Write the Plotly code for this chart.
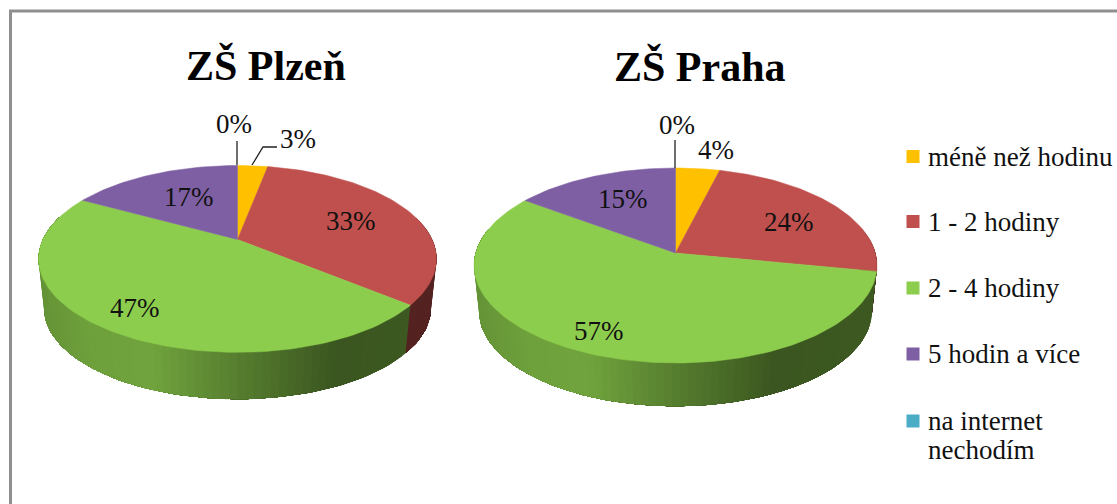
import math
import plotly.graph_objects as go

# ---- data -------------------------------------------------------------
categories = ["méně než hodinu", "1 - 2 hodiny", "2 - 4 hodiny", "5 hodin a více", "na internet<br>nechodím"]
plzen_values = [3, 33, 47, 17, 0]
praha_values = [4, 24, 57, 15, 0]
chart_titles = ["ZŠ Plzeň", "ZŠ Praha"]

# ---- style ------------------------------------------------------------
slice_colors = ["#FFC000", "#C0504D", "#8DCD4D", "#7F5FA3", "#4BACC6"]
SERIF = "Liberation Serif"
TEXT = "#111111"
# brightness of the pie wall, left to right
wall_shade = [(0.0, 0.72), (0.12, 0.78), (0.28, 0.80), (0.52, 0.60), (0.75, 0.42), (1.0, 0.44)]

# Perspective discs: apex, half axes, k (perspective), depth of wall
plzen_disc = dict(cx=237.5, ay=239.5, a=194.6, b=89.4, k=0.208, dy=50, s=0.972)
praha_disc = dict(cx=675.5, ay=253.0, a=199.8, b=95.9, k=0.128, dy=46, s=0.975)


def project(d, theta, lower=False):
    u, v = math.sin(theta), math.cos(theta)
    den = 1 + d["k"] * v
    s = d["s"] if lower else 1.0
    x = d["cx"] + s * d["a"] * u / den
    y = d["ay"] - s * d["b"] * v / den + (d["dy"] if lower else 0)
    return x, y


def shade(hex_color, t):
    f = wall_shade[-1][1]
    for (t0, f0), (t1, f1) in zip(wall_shade, wall_shade[1:]):
        if t0 <= t <= t1:
            f = f0 + (f1 - f0) * (t - t0) / (t1 - t0)
            break
    r, g, b = [int(hex_color[i:i + 2], 16) for i in (1, 3, 5)]
    return f"rgb({int(r * f)},{int(g * f)},{int(b * f)})"


fig = go.Figure()


def poly(xs, ys, color, lw=0.0):
    fig.add_trace(go.Scatter(x=xs, y=ys, mode="lines", fill="toself", fillcolor=color,
                             line=dict(color=color, width=lw), hoverinfo="skip", showlegend=False))


def draw_pie(values, d):
    total = sum(values)
    half = d["a"] / math.sqrt(1 - d["k"] ** 2)
    # walls first: each band runs on under the next band of its slice, so no seam shows
    start = 0.0
    for val, col in zip(values, slice_colors):
        end = start + val / total * 2 * math.pi
        lo, hi = max(start, math.radians(75)), min(end, math.radians(285))
        if hi > lo:
            n = max(1, int(math.degrees(hi - lo) / 2.0))
            for i in range(n):
                t0 = lo + (hi - lo) * i / n
                t1 = lo + (hi - lo) * (i + 1) / n
                far = hi
                x0, y0 = project(d, t0)
                xs_top, ys_top, xs_low, ys_low = [], [], [], []
                m = max(1, int(math.degrees(far - t0) / 2.0))
                for j in range(m + 1):
                    tj = t0 + (far - t0) * j / m
                    xa, ya = project(d, tj)
                    xb, yb = project(d, tj, True)
                    xs_top.append(xa)
                    ys_top.append(ya)
                    xs_low.append(xb)
                    ys_low.append(yb)
                xm = project(d, (t0 + t1) / 2)[0]
                tx = (xm - (d["cx"] - half)) / (2 * half)
                poly(xs_top + xs_low[::-1] + [x0], ys_top + ys_low[::-1] + [y0], shade(col, tx))
        start = end
    # top faces
    start = 0.0
    for val, col in zip(values, slice_colors):
        end = start + val / total * 2 * math.pi
        if val > 0:
            n = max(2, int(math.degrees(end - start) / 1.5))
            pts = [project(d, start + (end - start) * i / n) for i in range(n + 1)]
            xs = [d["cx"]] + [p[0] for p in pts] + [d["cx"]]
            ys = [d["ay"]] + [p[1] for p in pts] + [d["ay"]]
            poly(xs, ys, col, 0.5)
        start = end


draw_pie(plzen_values, plzen_disc)
draw_pie(praha_values, praha_disc)

# legend swatches + names
legend_y = [156.5, 221.5, 288, 354, 421]
fig.add_trace(go.Scatter(x=[913] * 5, y=legend_y, mode="markers", hoverinfo="skip", showlegend=False,
                         marker=dict(symbol="square", size=13, color=slice_colors, line=dict(width=0))))
ann = []


def label(x, y, text, size=27, bold=False, xanchor="center"):
    ann.append(dict(x=x, y=y, xref="x", yref="y", text=text, showarrow=False, xanchor=xanchor, yanchor="middle",
                    align="left", font=dict(family=SERIF, size=size, color="#000000" if bold else TEXT,
                                            weight="bold" if bold else "normal")))


label(266, 65, chart_titles[0], 42, True)
label(700, 66, chart_titles[1], 42, True)

plzen_pos = [(298, 139), (351, 221), (135, 308), (189, 197), (234, 124)]
praha_pos = [(716, 150), (789, 222), (599, 331), (623, 199), (677, 125)]
for vals, pos in ((plzen_values, plzen_pos), (praha_values, praha_pos)):
    for v, (x, y) in zip(vals, pos):
        label(x, y, f"{v}%", 27)

legend_text_y = [157, 222, 288, 354, 421]
for name, y in zip(categories, legend_text_y):
    for i, line in enumerate(name.split("<br>")):
        label(926, y + i * 29, line, 27, False, "left")

leaders = [
    [(237, 165), (237, 141)],
    [(252, 165), (263, 147), (277, 147)],
    [(675, 168), (675, 140)],
]
shapes = []
for pts in leaders:
    path = "M " + " L ".join(f"{x} {y}" for x, y in pts)
    shapes.append(dict(type="path", path=path, xref="x", yref="y", line=dict(color="#222222", width=1.3)))
# chart frame (top and left, the picture is cropped on the others)
shapes.append(dict(type="path", path="M 10.5 504 L 10.5 11 L 1117 11", xref="x", yref="y",
                   line=dict(color="#8f8f8f", width=3)))

fig.update_layout(width=1117, height=504, margin=dict(l=0, r=0, t=0, b=0), paper_bgcolor="white",
                  plot_bgcolor="white", showlegend=False, annotations=ann, shapes=shapes,
                  xaxis=dict(range=[0, 1117], visible=False, fixedrange=True),
                  yaxis=dict(range=[504, 0], visible=False, fixedrange=True))
fig.write_html("out.html", config=dict(displayModeBar=False),
               post_script="document.body.style.margin='0';")
